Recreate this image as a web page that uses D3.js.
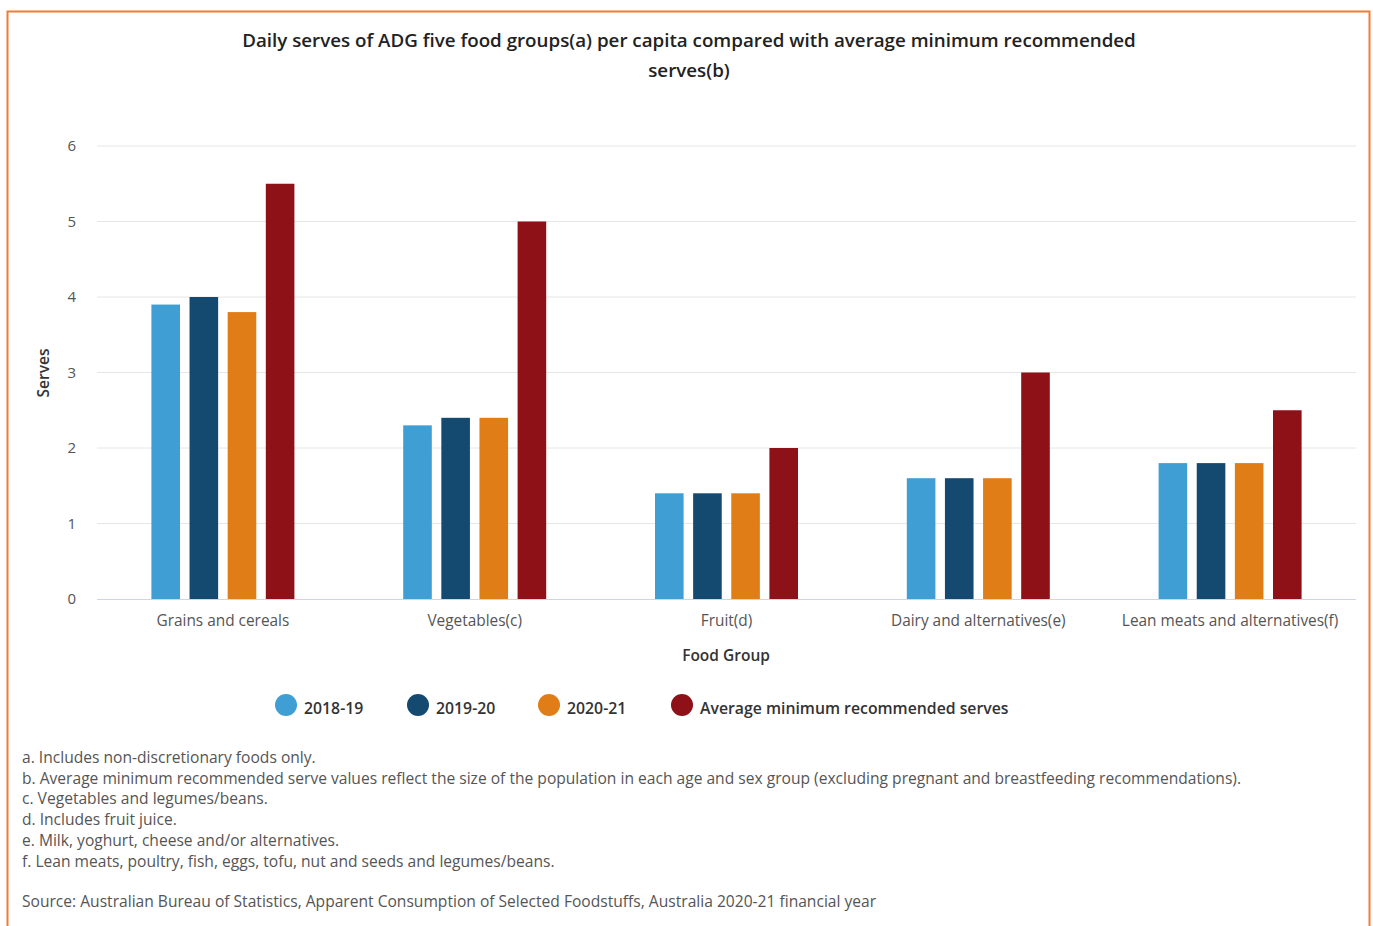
<!DOCTYPE html>
<html><head><meta charset="utf-8">
<script src="https://cdn.jsdelivr.net/npm/d3@7"></script>
<style>body{margin:0;background:#fff;font-family:"Open Sans","Noto Sans",sans-serif;}</style>
</head><body>
<svg id="c" width="1373" height="926"></svg>
<script>
const categories = ["Grains and cereals","Vegetables(c)","Fruit(d)","Dairy and alternatives(e)","Lean meats and alternatives(f)"];
const seriesNames = ["2018-19","2019-20","2020-21","Average minimum recommended serves"];
const seriesColors = ["#3f9fd5","#144a70","#e07d17","#8d1117"];
const s2018 = [3.9,2.3,1.4,1.6,1.8];
const s2019 = [4.0,2.4,1.4,1.6,1.8];
const s2020 = [3.8,2.4,1.4,1.6,1.8];
const sAvg  = [5.5,5.0,2.0,3.0,2.5];
const yTicks = [0,1,2,3,4,5,6];
const footnotes = [
 "a. Includes non-discretionary foods only.",
 "b. Average minimum recommended serve values reflect the size of the population in each age and sex group (excluding pregnant and breastfeeding recommendations).",
 "c. Vegetables and legumes/beans.",
 "d. Includes fruit juice.",
 "e. Milk, yoghurt, cheese and/or alternatives.",
 "f. Lean meats, poultry, fish, eggs, tofu, nut and seeds and legumes/beans."
];
const source = "Source: Australian Bureau of Statistics, Apparent Consumption of Selected Foodstuffs, Australia 2020-21 financial year";
const allSeries = [s2018,s2019,s2020,sAvg];

const svg = d3.select("#c");
svg.append("rect").attr("x",7.5).attr("y",11.5).attr("width",1362).attr("height",930)
  .attr("fill","#fff").attr("stroke","#ef7d32").attr("stroke-width",2);

svg.append("text").attr("x",689).attr("y",47).attr("text-anchor","middle")
  .attr("font-size",18.75).attr("font-weight",600).attr("fill","#222")
  .text("Daily serves of ADG five food groups(a) per capita compared with average minimum recommended");
svg.append("text").attr("x",689).attr("y",77).attr("text-anchor","middle")
  .attr("font-size",18.75).attr("font-weight",600).attr("fill","#222").text("serves(b)");

const L=97, R=1356, T=146, B=599;
const x = d3.scaleBand().domain(categories).range([L,R]);
const y = d3.scaleLinear().domain([0,6]).range([B,T]);
const xs = d3.scaleBand().domain(d3.range(4)).range([0,143]).paddingInner(0.25);

const g = svg.append("g");
g.selectAll("line.grid").data(yTicks.filter(d=>d>0)).join("line")
  .attr("x1",L).attr("x2",R).attr("y1",d=>y(d)).attr("y2",d=>y(d))
  .attr("stroke","#e6e6e6").attr("stroke-width",1);
g.selectAll("text.yt").data(yTicks).join("text")
  .attr("x",76).attr("y",d=>y(d)+5).attr("text-anchor","end")
  .attr("font-size",15).attr("fill","#555").text(d=>d);

allSeries.forEach((s,si)=>{
  g.selectAll("rect.s"+si).data(s).join("rect")
    .attr("x",(d,i)=>x(categories[i])+x.bandwidth()/2-71.5+xs(si))
    .attr("width",xs.bandwidth())
    .attr("y",d=>y(d)).attr("height",d=>B-y(d))
    .attr("fill",seriesColors[si]);
});
g.append("line").attr("x1",L).attr("x2",R).attr("y1",B+0.5).attr("y2",B+0.5).attr("stroke","#ccd6eb");

g.selectAll("text.xt").data(categories).join("text")
  .attr("x",d=>x(d)+x.bandwidth()/2).attr("y",626).attr("text-anchor","middle")
  .attr("font-size",15.4).attr("fill","#555").text(d=>d);

svg.append("text").attr("x",726).attr("y",661).attr("text-anchor","middle")
  .attr("font-size",15.5).attr("font-weight",600).attr("fill","#333").text("Food Group");
svg.append("text").attr("transform","translate(49,373) rotate(-90)").attr("text-anchor","middle")
  .attr("font-size",15.5).attr("font-weight",600).attr("fill","#333").text("Serves");

const legX = [286,418,549,682];
seriesNames.forEach((n,i)=>{
  svg.append("circle").attr("cx",legX[i]).attr("cy",705).attr("r",11).attr("fill",seriesColors[i]);
  svg.append("text").attr("x",legX[i]+18).attr("y",714).attr("font-size",15.8).attr("font-weight",600)
    .attr("fill","#333").text(n);
});

footnotes.forEach((f,i)=>{
  svg.append("text").attr("x",22).attr("y",763+i*20.7).attr("font-size",15.6).attr("fill","#555").text(f);
});
svg.append("text").attr("x",22).attr("y",907).attr("font-size",15.6).attr("fill","#555").text(source);
</script>
</body></html>
